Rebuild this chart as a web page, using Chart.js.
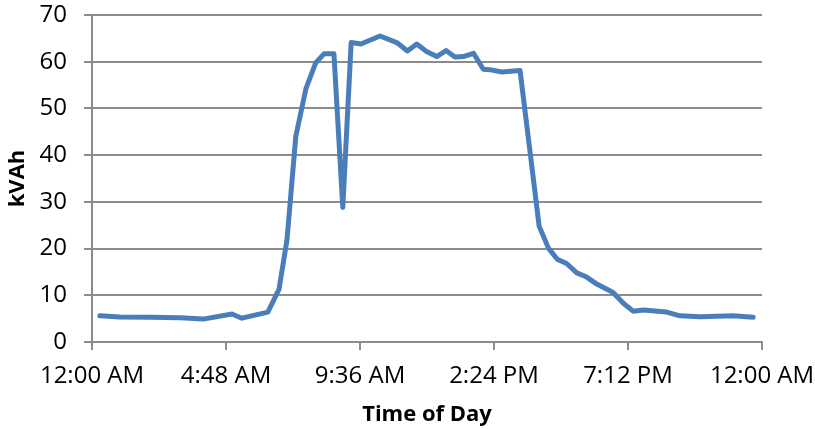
<!DOCTYPE html>
<html lang="en">
<head>
    <meta charset="UTF-8">
    <title>kVAh by Time of Day</title>
    <script src="https://cdn.jsdelivr.net/npm/chart.js"></script>
    <style>
        body { margin: 0; background: #fff; }
    </style>
</head>
<body>
    <canvas id="loadChart" width="815" height="429"></canvas>
    <script>
        // minutes after midnight
        const minutes = [17, 60, 125, 189, 239, 301, 322, 378, 402, 419, 438, 460, 481, 499, 520, 539,
            557, 578, 619, 655, 678, 698, 719, 741, 761, 780, 798, 820, 841, 855, 881, 920,
            941, 961, 981, 1000, 1020, 1042, 1063, 1085, 1120, 1142, 1163, 1185, 1235, 1264, 1307, 1378, 1421];
        const kvah = [5.6, 5.35, 5.3, 5.2, 4.9, 6.0, 5.1, 6.4, 11.3, 21.8, 44.0, 54.3, 59.8, 61.7, 61.7, 28.8,
            64.1, 63.8, 65.5, 64.1, 62.3, 63.8, 62.2, 61.1, 62.4, 61.0, 61.1, 61.8, 58.4, 58.3, 57.8, 58.1,
            41.1, 24.8, 20.1, 17.7, 16.8, 14.8, 13.9, 12.4, 10.6, 8.3, 6.6, 6.85, 6.4, 5.6, 5.4, 5.6, 5.3];
        const tickMinutes = [0, 288, 576, 864, 1152, 1440];
        const tickLabels = ['12:00 AM', '4:48 AM', '9:36 AM', '2:24 PM', '7:12 PM', '12:00 AM'];

        const points = minutes.map((m, i) => ({ x: m, y: kvah[i] }));
        const fontFam = "'Open Sans', sans-serif";
        const gridGray = '#8c8c8c';

        new Chart(document.getElementById('loadChart'), {
            type: 'line',
            data: {
                datasets: [{
                    label: 'kVAh',
                    data: points,
                    borderColor: '#4a7ebb',
                    borderWidth: 5,
                    borderCapStyle: 'round',
                    borderJoinStyle: 'round',
                    pointRadius: 0,
                    tension: 0,
                    fill: false
                }]
            },
            options: {
                responsive: false,
                animation: false,
                layout: { padding: { top: 15, right: 53, left: 0, bottom: 0 } },
                plugins: { legend: { display: false }, tooltip: { enabled: false } },
                scales: {
                    x: {
                        type: 'linear',
                        min: 0,
                        max: 1440,
                        afterBuildTicks: axis => { axis.ticks = tickMinutes.map(v => ({ value: v })); },
                        afterFit: axis => {
                            axis.height = 87;
                            axis.paddingLeft = 0;
                            axis.paddingRight = 0;
                        },
                        ticks: {
                            callback: (v) => tickLabels[tickMinutes.indexOf(v)],
                            color: '#000',
                            font: { family: fontFam, size: 24 },
                            maxRotation: 0,
                            padding: 12
                        },
                        grid: { drawOnChartArea: false, color: gridGray, lineWidth: 2, tickLength: 8 },
                        border: { color: gridGray, width: 2 },
                        title: {
                            display: true,
                            text: 'Time of Day',
                            color: '#000',
                            font: { family: fontFam, size: 22, weight: 'bold' },
                            padding: { top: 0, bottom: 1 }
                        }
                    },
                    y: {
                        min: 0,
                        max: 70,
                        afterFit: axis => {
                            axis.width = 92;
                            axis.paddingTop = 0;
                            axis.paddingBottom = 0;
                        },
                        ticks: {
                            stepSize: 10,
                            color: '#000',
                            font: { family: fontFam, size: 24 },
                            padding: 17
                        },
                        grid: { color: gridGray, lineWidth: 2, tickLength: 8 },
                        border: { color: gridGray, width: 2 },
                        title: {
                            display: true,
                            text: 'kVAh',
                            color: '#000',
                            font: { family: fontFam, size: 22, weight: 'bold' },
                            padding: { top: 5, bottom: 0 }
                        }
                    }
                }
            }
        });
    </script>
</body>
</html>
